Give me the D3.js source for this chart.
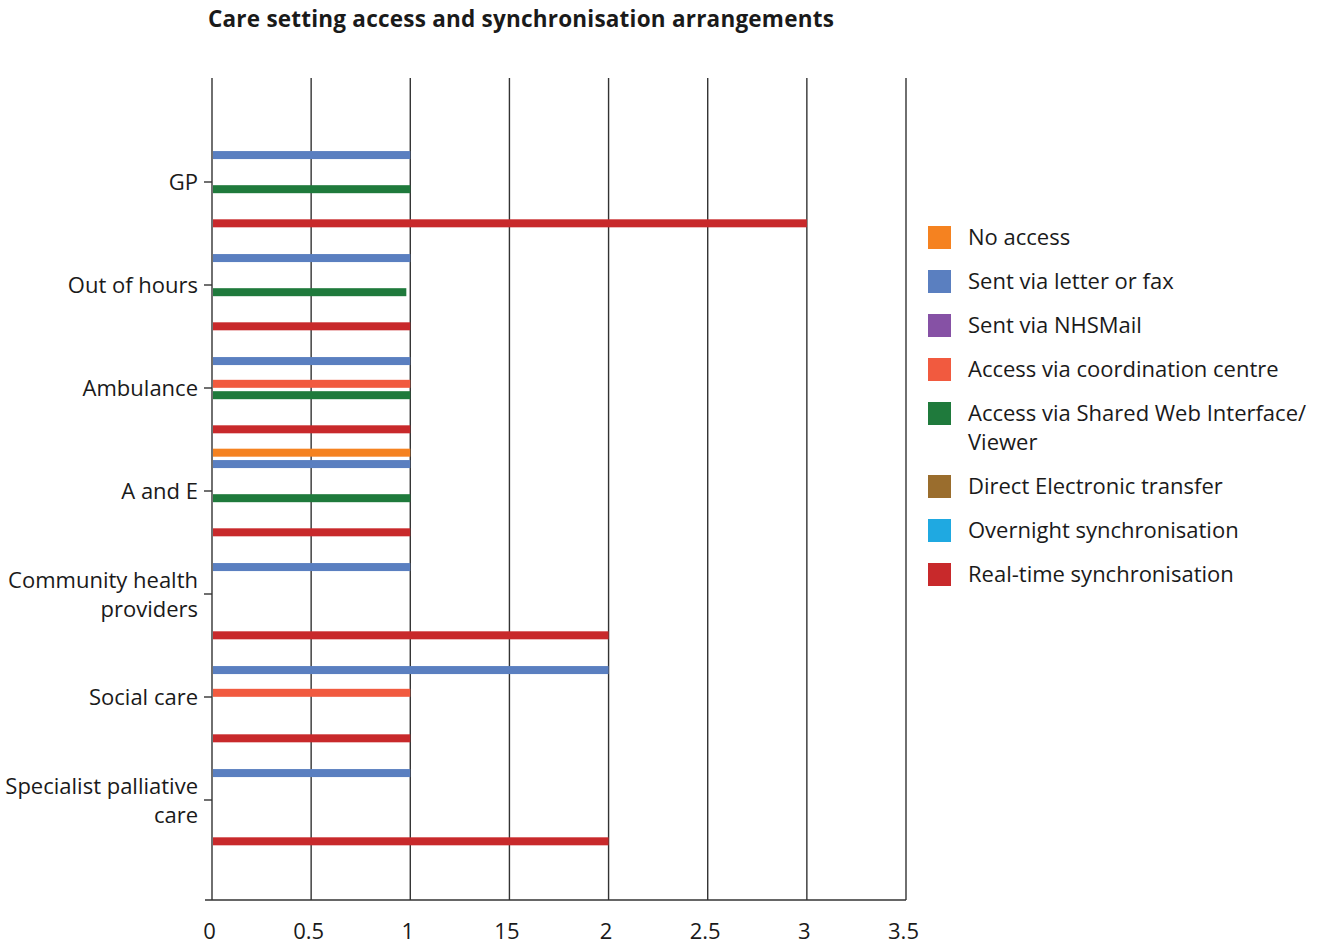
<!DOCTYPE html>
<html>
<head>
<meta charset="utf-8">
<script src="https://cdn.jsdelivr.net/npm/d3@7"></script>
<style>
  html, body { margin: 0; padding: 0; background: #fff; }
  svg text { font-family: "Open Sans", "Noto Sans", sans-serif; fill: #1a1a1a; }
</style>
</head>
<body>
<svg id="chart" width="1323" height="946"></svg>
<script>
// Care settings (one row group each), listed top to bottom
const categories = [
  "GP",
  "Out of hours",
  "Ambulance",
  "A and E",
  "Community health providers",
  "Social care",
  "Specialist palliative care"
];

// Arrangement types, in drawing order inside each care setting
const seriesNames = [
  "No access",
  "Sent via letter or fax",
  "Sent via NHSMail",
  "Access via coordination centre",
  "Access via Shared Web Interface/ Viewer",
  "Direct Electronic transfer",
  "Overnight synchronisation",
  "Real-time synchronisation"
];

const seriesColors = [
  "#f58220", "#5a7fc0", "#8651a5", "#f15a3f",
  "#1f7a3c", "#9a6d2d", "#1fa9e1", "#c8292b"
];

// Counts per care setting, one array per arrangement type (0 = no bar)
const noAccess        = [0, 0, 0, 1, 0, 0, 0];
const letterOrFax     = [1, 1, 1, 1, 1, 2, 1];
const nhsMail         = [0, 0, 0, 0, 0, 0, 0];
const coordination    = [0, 0, 1, 0, 0, 1, 0];
const sharedWeb       = [1, 0.98, 1, 1, 0, 0, 0];
const directTransfer  = [0, 0, 0, 0, 0, 0, 0];
const overnightSync   = [0, 0, 0, 0, 0, 0, 0];
const realTimeSync    = [3, 1, 1, 1, 2, 1, 2];

const seriesValues = [noAccess, letterOrFax, nhsMail, coordination,
                      sharedWeb, directTransfer, overnightSync, realTimeSync];

// Axis tick values and their printed labels
const xTicks = [0, 0.5, 1, 1.5, 2, 2.5, 3, 3.5];
const xTickLabels = ["0", "0.5", "1", "15", "2", "2.5", "3", "3.5"];

const titleText = "Care setting access and synchronisation arrangements";

const svg = d3.select("#chart");

const plotLeft = 212, plotRight = 906, plotTop = 78, plotBottom = 900;
const fontSize = 22;

const x = d3.scaleLinear().domain([0, 3.5]).range([plotLeft, plotRight]);
const y = d3.scalePoint().domain(categories).range([plotTop + 1, 903]).padding(1);
const sub = d3.scaleBand().domain(seriesNames).range([-44, 47]);
const barH = 8;

// Title
svg.append("text")
  .attr("x", 208).attr("y", 27)
  .attr("font-size", 22.5).attr("font-weight", 700)
  .attr("letter-spacing", 0.22)
  .text(titleText);

// Vertical grid lines at each tick
svg.append("g").selectAll("line")
  .data(xTicks)
  .join("line")
  .attr("x1", d => x(d)).attr("x2", d => x(d))
  .attr("y1", plotTop).attr("y2", plotBottom)
  .attr("stroke", "#333").attr("stroke-width", 1.4);

// Bottom axis line with the tick labels underneath
const xAxis = d3.axisBottom(x)
  .tickValues(xTicks)
  .tickSize(0)
  .tickPadding(23)
  .tickFormat((d, i) => xTickLabels[i]);

const gx = svg.append("g").attr("transform", `translate(0,${plotBottom})`).call(xAxis);
gx.select(".domain").remove();
gx.selectAll("text").attr("font-size", fontSize).attr("fill", "#1a1a1a")
  .attr("font-family", '"Open Sans", "Noto Sans", sans-serif')
  .attr("dx", -3);
svg.append("line")
  .attr("x1", 205).attr("x2", plotRight)
  .attr("y1", plotBottom).attr("y2", plotBottom)
  .attr("stroke", "#333").attr("stroke-width", 1.4);

// Category tick marks
svg.append("g").selectAll("line")
  .data(categories)
  .join("line")
  .attr("x1", 204).attr("x2", plotLeft)
  .attr("y1", d => y(d)).attr("y2", d => y(d))
  .attr("stroke", "#333").attr("stroke-width", 1.4);

// Category labels, wrapped onto two lines where long
const labelLines = {
  "Community health providers": ["Community health", "providers"],
  "Specialist palliative care": ["Specialist palliative", "care"]
};
const yLabels = svg.append("g").selectAll("text")
  .data(categories)
  .join("text")
  .attr("x", 198)
  .attr("y", d => y(d))
  .attr("text-anchor", "end")
  .attr("font-size", fontSize);
yLabels.each(function (d) {
  const lines = labelLines[d] || [d];
  const t = d3.select(this);
  if (lines.length === 1) {
    t.append("tspan").attr("x", 198).attr("dy", "0.35em").text(lines[0]);
  } else {
    t.append("tspan").attr("x", 198).attr("dy", -6).text(lines[0]);
    t.append("tspan").attr("x", 198).attr("dy", 29).text(lines[1]);
  }
});

// Bars
const barData = [];
seriesNames.forEach((s, si) => {
  categories.forEach((c, ci) => {
    const v = seriesValues[si][ci];
    if (v > 0) barData.push({ series: s, cat: c, value: v, color: seriesColors[si] });
  });
});

svg.append("g").selectAll("rect")
  .data(barData)
  .join("rect")
  .attr("x", x(0) + 1)
  .attr("y", d => y(d.cat) + sub(d.series) + sub.bandwidth() / 2 - barH / 2)
  .attr("width", d => x(d.value) - x(0) - 1)
  .attr("height", barH)
  .attr("fill", d => d.color);

// Legend
const legend = svg.append("g").attr("transform", "translate(928,237)");
const legendRows = [0, 44, 88, 132, 176, 249, 293, 337];
seriesNames.forEach((s, i) => {
  const g = legend.append("g").attr("transform", `translate(0,${legendRows[i]})`);
  g.append("rect").attr("x", 0).attr("y", -11).attr("width", 23).attr("height", 23)
    .attr("fill", seriesColors[i]);
  const t = g.append("text").attr("x", 40).attr("y", 0).attr("font-size", fontSize);
  if (s === "Access via Shared Web Interface/ Viewer") {
    t.append("tspan").attr("x", 40).attr("dy", "0.35em").text("Access via Shared Web Interface/");
    t.append("tspan").attr("x", 40).attr("dy", 29).text("Viewer");
  } else {
    t.append("tspan").attr("x", 40).attr("dy", "0.35em").text(s);
  }
});
</script>
</body>
</html>
